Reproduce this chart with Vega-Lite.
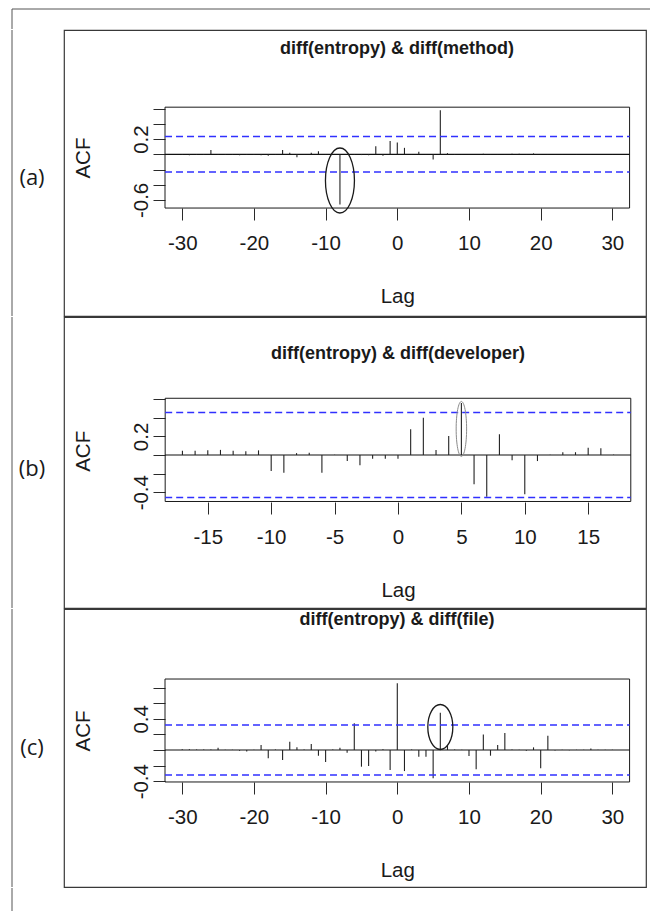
{
  "$schema": "https://vega.github.io/schema/vega-lite/v6.json",
  "background": "white",
  "padding": {"left": 11, "top": 8, "right": 0, "bottom": 0},
  "autosize": {"type": "pad"},
  "bounds": "flush",
  "align": "each",
  "columns": 2,
  "spacing": {"row": 1, "column": 0},
  "config": {
    "font": "Liberation Sans",
    "view": {"stroke": "#383838", "strokeWidth": 1.2},
    "axis": {"grid": false, "domain": false, "tickColor": "#2a2a2a", "tickWidth": 1, "tickSize": 12,
      "labelColor": "#1a1a1a", "titleColor": "#1a1a1a", "labelFont": "Liberation Sans", "titleFont": "Liberation Sans",
      "labelFontSize": 20.5, "titleFontSize": 20.5, "titleFontWeight": "normal", "labelFlush": false, "labelOverlap": false, "labelBound": false},
    "title": {"font": "Liberation Sans", "fontSize": 18, "fontWeight": "bold", "color": "#1a1a1a", "anchor": "middle", "frame": "group", "baseline": "middle"}
  },
  "concat": [
    {"width": 52, "height": 20, "view": {"stroke": null},
     "data": {"values": [{}]},
     "layer": [
       {"mark": {"type": "rule", "color": "#555", "strokeWidth": 1},
        "encoding": {"x": {"datum": 0, "scale": {"domain": [0, 1]}, "axis": null}}},
       {"mark": {"type": "rule", "color": "#555", "strokeWidth": 1},
        "encoding": {"y": {"datum": 1, "scale": {"domain": [0, 1]}, "axis": null}}}
     ]},
    {"width": 586, "height": 20, "view": {"stroke": null},
     "data": {"values": [{}]},
     "mark": {"type": "rule", "color": "#555", "strokeWidth": 1},
     "encoding": {"y": {"datum": 1, "scale": {"domain": [0, 1]}, "axis": null}}},
    {"width": 52, "height": 286, "view": {"stroke": null},
     "layer": [
       {"data": {"values": [{"label": "(a)"}]},
        "mark": {"type": "text", "font": "Open Sans", "fontSize": 22, "dx": -6, "dy": 5, "color": "#1a1a1a"},
        "encoding": {"text": {"field": "label"}}},
       {"data": {"values": [{}]}, "mark": {"type": "rule", "color": "#555", "strokeWidth": 1},
        "encoding": {"x": {"datum": 0, "scale": {"domain": [0, 1]}, "axis": null}}}
     ]},
    {"width": 582, "height": 286,
     "title": {"text": "diff(entropy) & diff(method)", "offset": -28, "dx": 42},
     "data": {"values": [
{"lag":-30,"acf":-0.01},{"lag":-29,"acf":-0.012},{"lag":-28,"acf":-0.008},{"lag":-27,"acf":-0.01},{"lag":-26,"acf":0.055},{"lag":-25,"acf":-0.01},{"lag":-24,"acf":-0.008},{"lag":-23,"acf":-0.01},{"lag":-22,"acf":-0.012},{"lag":-21,"acf":-0.01},{"lag":-20,"acf":-0.008},{"lag":-19,"acf":-0.012},{"lag":-18,"acf":-0.02},{"lag":-17,"acf":-0.005},{"lag":-16,"acf":0.055},{"lag":-15,"acf":0.02},{"lag":-14,"acf":-0.04},{"lag":-13,"acf":0.005},{"lag":-12,"acf":0.02},{"lag":-11,"acf":0.04},{"lag":-10,"acf":0.005},{"lag":-9,"acf":-0.005},{"lag":-8,"acf":-0.66},{"lag":-7,"acf":0.005},{"lag":-6,"acf":-0.01},{"lag":-5,"acf":-0.01},{"lag":-4,"acf":-0.012},{"lag":-3,"acf":0.105},{"lag":-2,"acf":-0.02},{"lag":-1,"acf":0.175},{"lag":0,"acf":0.155},{"lag":1,"acf":0.085},{"lag":2,"acf":0.005},{"lag":3,"acf":0.035},{"lag":4,"acf":0.005},{"lag":5,"acf":-0.07},{"lag":6,"acf":0.58},{"lag":7,"acf":0.015},{"lag":8,"acf":-0.01},{"lag":9,"acf":0.003},{"lag":10,"acf":0.004},{"lag":11,"acf":0.002},{"lag":12,"acf":0.008},{"lag":13,"acf":0.003},{"lag":14,"acf":-0.003},{"lag":15,"acf":0.004},{"lag":16,"acf":0.006},{"lag":17,"acf":0.007},{"lag":18,"acf":0.003},{"lag":19,"acf":0.012},{"lag":20,"acf":0.004},{"lag":21,"acf":0.003},{"lag":22,"acf":-0.002},{"lag":23,"acf":0.003},{"lag":24,"acf":0.002},{"lag":25,"acf":0.004},{"lag":26,"acf":0.002},{"lag":27,"acf":0.003},{"lag":28,"acf":0.002},{"lag":29,"acf":0.002},{"lag":30,"acf":0.003}
     ]},
     "layer": [
       {"data": {"values": [{}]}, "mark": {"type": "rect", "fillOpacity": 0, "stroke": "#1a1a1a", "strokeWidth": 1},
        "encoding": {"x": {"datum": -32.4}, "x2": {"datum": 32.4}, "y": {"datum": -0.707}, "y2": {"datum": 0.62}}},
       {"data": {"values": [{}]}, "mark": {"type": "rule", "color": "#111", "strokeWidth": 1.2},
        "encoding": {"x": {"datum": -32.4}, "x2": {"datum": 32.4}, "y": {"datum": 0}}},
       {"mark": {"type": "rule", "color": "#222", "strokeWidth": 1.1},
        "encoding": {
          "x": {"field": "lag", "type": "quantitative", "scale": {"domain": [-46.49, 34.69], "nice": false, "zero": false},
                "axis": {"orient": "bottom", "offset": -108, "values": [-30, -20, -10, 0, 10, 20, 30], "labelPadding": 13, "labelExpr": "'' + datum.value",
                         "title": "Lag", "titleX": 333.3, "titleY": 88, "titleBaseline": "middle", "titleAlign": "center"}},
          "y": {"field": "acf", "type": "quantitative", "scale": {"domain": [-2.1276, 1.6355], "nice": false, "zero": false},
                "axis": {"orient": "left", "offset": -101, "values": [-0.6, -0.4, -0.2, 0, 0.2, 0.4, 0.6],
                         "labelExpr": "datum.value === 0.2 ? '0.2' : datum.value === -0.6 ? '-0.6' : ''",
                         "labelAngle": 270, "labelAlign": "center", "labelBaseline": "bottom", "labelPadding": 2,
                         "title": "ACF", "titleX": -82, "titleY": 127.6, "titleAngle": 270, "titleBaseline": "middle", "titleAlign": "center"}},
          "y2": {"datum": 0}}},
       {"data": {"values": [{"conf": 0.233}, {"conf": -0.233}]}, "mark": {"type": "rule", "stroke": "#3030ff", "strokeDash": [7, 4], "strokeWidth": 1.5},
        "encoding": {"x": {"datum": -32.4}, "x2": {"datum": 32.4}, "y": {"field": "conf", "type": "quantitative"}}},
       {"data": {"values": [{}]}, "mark": {"type": "point", "shape": "M0,-1C0.2463,-1 0.446,-0.5523 0.446,0C0.446,0.5523 0.2463,1 0,1C-0.2463,1 -0.446,0.5523 -0.446,0C-0.446,-0.5523 -0.2463,-1 0,-1Z", "size": 4225, "filled": false, "color": "#1a1a1a", "strokeWidth": 1.3, "opacity": 1},
        "encoding": {"x": {"datum": -8}, "y": {"datum": -0.345}}}
     ]},
    {"width": 52, "height": 291, "view": {"stroke": null},
     "layer": [
       {"data": {"values": [{"label": "(b)"}]},
        "mark": {"type": "text", "font": "Open Sans", "fontSize": 22, "dx": -6, "dy": 6, "color": "#1a1a1a"},
        "encoding": {"text": {"field": "label"}}},
       {"data": {"values": [{}]}, "mark": {"type": "rule", "color": "#555", "strokeWidth": 1},
        "encoding": {"x": {"datum": 0, "scale": {"domain": [0, 1]}, "axis": null}}}
     ]},
    {"width": 582, "height": 291,
     "title": {"text": "diff(entropy) & diff(developer)", "offset": -46, "dx": 43},
     "data": {"values": [
{"lag":-17,"acf":0.045},{"lag":-16,"acf":0.045},{"lag":-15,"acf":0.05},{"lag":-14,"acf":0.055},{"lag":-13,"acf":0.045},{"lag":-12,"acf":0.04},{"lag":-11,"acf":0.05},{"lag":-10,"acf":-0.172},{"lag":-9,"acf":-0.19},{"lag":-8,"acf":0.02},{"lag":-7,"acf":0.025},{"lag":-6,"acf":-0.19},{"lag":-5,"acf":0.004},{"lag":-4,"acf":-0.065},{"lag":-3,"acf":-0.11},{"lag":-2,"acf":-0.04},{"lag":-1,"acf":-0.04},{"lag":0,"acf":-0.04},{"lag":1,"acf":0.276},{"lag":2,"acf":0.4},{"lag":3,"acf":0.054},{"lag":4,"acf":0.204},{"lag":5,"acf":0.56},{"lag":6,"acf":-0.315},{"lag":7,"acf":-0.448},{"lag":8,"acf":0.222},{"lag":9,"acf":-0.057},{"lag":10,"acf":-0.423},{"lag":11,"acf":-0.065},{"lag":12,"acf":0.004},{"lag":13,"acf":0.03},{"lag":14,"acf":0.03},{"lag":15,"acf":0.079},{"lag":16,"acf":0.072},{"lag":17,"acf":0.004}
     ]},
     "layer": [
       {"data": {"values": [{}]}, "mark": {"type": "rect", "fillOpacity": 0, "stroke": "#1a1a1a", "strokeWidth": 1},
        "encoding": {"x": {"datum": -18.36}, "x2": {"datum": 18.36}, "y": {"datum": -0.5}, "y2": {"datum": 0.61}}},
       {"data": {"values": [{}]}, "mark": {"type": "rule", "color": "#111", "strokeWidth": 1.2},
        "encoding": {"x": {"datum": -18.36}, "x2": {"datum": 18.36}, "y": {"datum": 0}}},
       {"mark": {"type": "rule", "color": "#222", "strokeWidth": 1.1},
        "encoding": {
          "x": {"field": "lag", "type": "quantitative", "scale": {"domain": [-26.34, 19.56], "nice": false, "zero": false},
                "axis": {"orient": "bottom", "offset": -106, "values": [-15, -10, -5, 0, 5, 10, 15], "labelPadding": 13, "labelExpr": "'' + datum.value",
                         "title": "Lag", "titleX": 334, "titleY": 88, "titleBaseline": "middle", "titleAlign": "center"}},
          "y": {"field": "acf", "type": "quantitative", "scale": {"domain": [-1.6452, 1.4839], "nice": false, "zero": false},
                "axis": {"orient": "left", "offset": -101, "values": [-0.4, -0.2, 0, 0.2, 0.4, 0.6],
                         "labelExpr": "datum.value === 0.2 ? '0.2' : datum.value === -0.4 ? '-0.4' : ''",
                         "labelAngle": 270, "labelAlign": "center", "labelBaseline": "bottom", "labelPadding": 2,
                         "title": "ACF", "titleX": -82, "titleY": 133.8, "titleAngle": 270, "titleBaseline": "middle", "titleAlign": "center"}},
          "y2": {"datum": 0}}},
       {"data": {"values": [{"conf": 0.457}, {"conf": -0.457}]}, "mark": {"type": "rule", "stroke": "#3030ff", "strokeDash": [7, 4], "strokeWidth": 1.5},
        "encoding": {"x": {"datum": -18.36}, "x2": {"datum": 18.36}, "y": {"field": "conf", "type": "quantitative"}}},
       {"data": {"values": [{}]}, "mark": {"type": "point", "shape": "M0,-1C0.1049,-1 0.19,-0.5523 0.19,0C0.19,0.5523 0.1049,1 0,1C-0.1049,1 -0.19,0.5523 -0.19,0C-0.19,-0.5523 -0.1049,-1 0,-1Z", "size": 3025, "filled": false, "color": "#8a8a8a", "strokeWidth": 1, "opacity": 1},
        "encoding": {"x": {"datum": 5}, "y": {"datum": 0.28}}}
     ]},
    {"width": 52, "height": 278, "view": {"stroke": null},
     "layer": [
       {"data": {"values": [{"label": "(c)"}]},
        "mark": {"type": "text", "font": "Open Sans", "fontSize": 22, "dx": -6, "dy": 0, "color": "#1a1a1a"},
        "encoding": {"text": {"field": "label"}}},
       {"data": {"values": [{}]}, "mark": {"type": "rule", "color": "#555", "strokeWidth": 1},
        "encoding": {"x": {"datum": 0, "scale": {"domain": [0, 1]}, "axis": null}}}
     ]},
    {"width": 582, "height": 278,
     "title": {"text": "diff(entropy) & diff(file)", "offset": -20, "dx": 42},
     "data": {"values": [
{"lag":-30,"acf":0.01},{"lag":-29,"acf":0.01},{"lag":-28,"acf":0.005},{"lag":-27,"acf":0.005},{"lag":-26,"acf":0.005},{"lag":-25,"acf":0.03},{"lag":-24,"acf":0.004},{"lag":-23,"acf":0.003},{"lag":-22,"acf":-0.01},{"lag":-21,"acf":-0.02},{"lag":-20,"acf":0.004},{"lag":-19,"acf":0.064},{"lag":-18,"acf":-0.107},{"lag":-17,"acf":0.005},{"lag":-16,"acf":-0.128},{"lag":-15,"acf":0.107},{"lag":-14,"acf":0.034},{"lag":-13,"acf":0.005},{"lag":-12,"acf":0.077},{"lag":-11,"acf":-0.073},{"lag":-10,"acf":-0.154},{"lag":-9,"acf":0.005},{"lag":-8,"acf":0.03},{"lag":-7,"acf":-0.034},{"lag":-6,"acf":0.342},{"lag":-5,"acf":-0.214},{"lag":-4,"acf":-0.205},{"lag":-3,"acf":-0.02},{"lag":-2,"acf":0.01},{"lag":-1,"acf":-0.256},{"lag":0,"acf":0.855},{"lag":1,"acf":-0.27},{"lag":2,"acf":0.005},{"lag":3,"acf":-0.085},{"lag":4,"acf":-0.085},{"lag":5,"acf":-0.363},{"lag":6,"acf":0.479},{"lag":7,"acf":0.06},{"lag":8,"acf":0.005},{"lag":9,"acf":0.004},{"lag":10,"acf":-0.077},{"lag":11,"acf":-0.248},{"lag":12,"acf":0.2},{"lag":13,"acf":-0.073},{"lag":14,"acf":0.064},{"lag":15,"acf":0.218},{"lag":16,"acf":0.005},{"lag":17,"acf":0.004},{"lag":18,"acf":-0.01},{"lag":19,"acf":0.034},{"lag":20,"acf":-0.235},{"lag":21,"acf":0.184},{"lag":22,"acf":-0.005},{"lag":23,"acf":0.004},{"lag":24,"acf":-0.004},{"lag":25,"acf":0.003},{"lag":26,"acf":0.004},{"lag":27,"acf":0.02},{"lag":28,"acf":0.003},{"lag":29,"acf":0.002},{"lag":30,"acf":0.002}
     ]},
     "layer": [
       {"data": {"values": [{}]}, "mark": {"type": "rect", "fillOpacity": 0, "stroke": "#1a1a1a", "strokeWidth": 1},
        "encoding": {"x": {"datum": -32.4}, "x2": {"datum": 32.4}, "y": {"datum": -0.41}, "y2": {"datum": 0.91}}},
       {"data": {"values": [{}]}, "mark": {"type": "rule", "color": "#111", "strokeWidth": 1.2},
        "encoding": {"x": {"datum": -32.4}, "x2": {"datum": 32.4}, "y": {"datum": 0}}},
       {"mark": {"type": "rule", "color": "#222", "strokeWidth": 1.1},
        "encoding": {
          "x": {"field": "lag", "type": "quantitative", "scale": {"domain": [-46.49, 34.69], "nice": false, "zero": false},
                "axis": {"orient": "bottom", "offset": -105, "values": [-30, -20, -10, 0, 10, 20, 30], "labelPadding": 13, "labelExpr": "'' + datum.value",
                         "title": "Lag", "titleX": 333.3, "titleY": 88, "titleBaseline": "middle", "titleAlign": "center"}},
          "y": {"field": "acf", "type": "quantitative", "scale": {"domain": [-1.7564, 1.8077], "nice": false, "zero": false},
                "axis": {"orient": "left", "offset": -101, "values": [-0.4, -0.2, 0, 0.2, 0.4, 0.6, 0.8],
                         "labelExpr": "datum.value === 0.4 ? '0.4' : datum.value === -0.4 ? '-0.4' : ''",
                         "labelAngle": 270, "labelAlign": "center", "labelBaseline": "bottom", "labelPadding": 2,
                         "title": "ACF", "titleX": -82, "titleY": 121.5, "titleAngle": 270, "titleBaseline": "middle", "titleAlign": "center"}},
          "y2": {"datum": 0}}},
       {"data": {"values": [{"conf": 0.32}, {"conf": -0.32}]}, "mark": {"type": "rule", "stroke": "#3030ff", "strokeDash": [7, 4], "strokeWidth": 1.5},
        "encoding": {"x": {"datum": -32.4}, "x2": {"datum": 32.4}, "y": {"field": "conf", "type": "quantitative"}}},
       {"data": {"values": [{}]}, "mark": {"type": "point", "shape": "M0,-1C0.3071,-1 0.556,-0.5523 0.556,0C0.556,0.5523 0.3071,1 0,1C-0.3071,1 -0.556,0.5523 -0.556,0C-0.556,-0.5523 -0.3071,-1 0,-1Z", "size": 2025, "filled": false, "color": "#1a1a1a", "strokeWidth": 1.3, "opacity": 1},
        "encoding": {"x": {"datum": 6}, "y": {"datum": 0.295}}}
     ]},
    {"width": 52, "height": 23, "view": {"stroke": null},
     "data": {"values": [{}]},
     "mark": {"type": "rule", "color": "#555", "strokeWidth": 1},
     "encoding": {"x": {"datum": 0, "scale": {"domain": [0, 1]}, "axis": null}}}
  ]
}
